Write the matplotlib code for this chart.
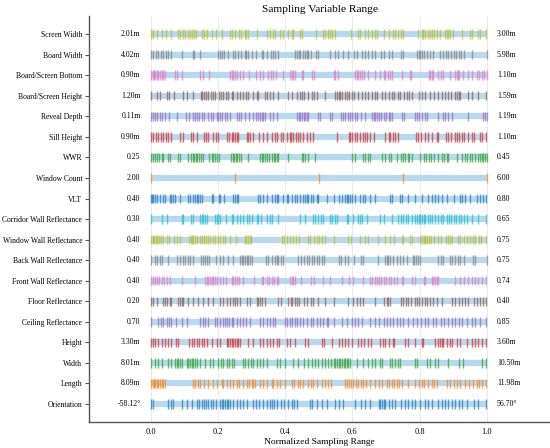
import numpy as np
import matplotlib.pyplot as plt

plt.rcParams['font.family'] = ['Liberation Serif', 'DejaVu Serif']

# variables, listed top to bottom as in the chart
variables = ["Screen Width", "Board Width", "Board/Screen Bottom", "Board/Screen Height",
             "Reveal Depth", "Sill Height", "WWR", "Window Count", "VLT",
             "Corridor Wall Reflectance", "Window Wall Reflectance", "Back Wall Reflectance",
             "Front Wall Reflectance", "Floor Reflectance", "Ceiling Reflectance",
             "Height", "Width", "Length", "Orientation"]
min_labels = ["2.01m", "4.02m", "0.90m", "1.20m", "0.11m", "0.90m", "0.25", "2.00", "0.40",
              "0.30", "0.40", "0.40", "0.40", "0.20", "0.70", "3.30m", "8.01m", "8.09m", "-58.12°"]
max_labels = ["3.00m", "5.98m", "1.10m", "1.59m", "1.19m", "1.10m", "0.45", "6.00", "0.80",
              "0.65", "0.75", "0.75", "0.74", "0.40", "0.85", "3.60m", "10.50m", "11.98m", "56.70°"]

# normalized sample positions
screen_width = [0, .008, .018, .035, .045, .06, .08, .088, .095, .103, .112, .117, .122, .13, .135, .152,
                .159, .167, .182, .195, .212, .237, .243, .251, .264, .27, .28, .285, .29, .315, .345, .355,
                .363, .371, .385, .395, .41, .42, .425, .445, .45, .491, .514, .519, .527, .534, .541, .549,
                .596, .618, .623, .638, .648, .658, .666, .673, .693, .708, .72, .727, .735, .745, .752, .795,
                .806, .811, .816, .824, .831, .836, .844, .851, .861, .876, .881, .886, .891, .9, .927, .95,
                .955, .973, .98, .997]
board_width = [0, .008, .015, .023, .03, .038, .045, .052, .062, .092, .125, .129, .147, .201, .206, .211,
               .218, .231, .244, .251, .261, .268, .28, .285, .29, .303, .313, .33, .335, .345, .357, .363,
               .371, .378, .43, .435, .44, .445, .452, .459, .464, .469, .477, .491, .499, .534, .547, .557,
               .573, .586, .606, .613, .628, .638, .648, .658, .666, .686, .693, .708, .718, .745, .752, .792,
               .797, .802, .807, .812, .822, .831, .841, .861, .871, .878, .886, .894, .901, .908, .916, .924,
               .931, .955, 1.0]
screen_bottom = [0, .006, .01, .014, .018, .023, .028, .033, .038, .042, .072, .077, .092, .147, .157, .175,
                 .236, .241, .246, .251, .258, .266, .276, .294, .313, .325, .335, .35, .357, .363, .373, .395,
                 .415, .42, .425, .43, .449, .454, .479, .487, .544, .549, .557, .608, .613, .618, .623, .63,
                 .636, .646, .668, .683, .693, .698, .705, .712, .719, .747, .772, .775, .827, .832, .836, .841,
                 .856, .864, .871, .891, .906, .911, .914, .918, .93, .945, .955, .97, .977, .985, .993, 1.0]
screen_height = [0, .018, .027, .048, .056, .07, .095, .107, .125, .149, .154, .159, .165, .172, .179, .185,
                 .192, .202, .208, .214, .224, .231, .241, .246, .256, .266, .276, .284, .291, .306, .315, .32,
                 .34, .345, .355, .365, .38, .41, .42, .434, .444, .449, .457, .469, .479, .487, .494, .519,
                 .547, .554, .559, .564, .569, .577, .583, .59, .598, .606, .618, .628, .638, .646, .658, .666,
                 .673, .688, .698, .708, .718, .725, .735, .742, .755, .762, .769, .777, .797, .806, .816, .831,
                 .844, .856, .866, .876, .886, .894, .906, .911, .916, .921, .944, .956, .975, .997]
reveal_depth = [0, .008, .013, .018, .028, .033, .042, .054, .077, .105, .115, .127, .132, .137, .145, .152,
                .159, .172, .179, .187, .196, .201, .206, .211, .221, .228, .236, .256, .264, .268, .28, .294,
                .306, .313, .32, .325, .33, .335, .34, .355, .365, .375, .435, .44, .445, .45, .455, .46, .464,
                .469, .499, .504, .534, .541, .566, .573, .578, .586, .593, .6, .608, .613, .626, .638, .658,
                .663, .668, .673, .678, .686, .693, .7, .708, .713, .718, .747, .755, .785, .792, .799, .807,
                .816, .821, .856, .871, .876, .886, .896, .945, .99, .995, 1.0]
sill_height = [0, .008, .016, .023, .03, .038, .045, .052, .062, .087, .095, .119, .125, .137, .159, .165,
               .172, .187, .194, .201, .226, .234, .241, .246, .251, .256, .261, .286, .291, .296, .304, .321,
               .335, .345, .36, .37, .375, .388, .395, .405, .415, .418, .425, .432, .439, .444, .454, .464,
               .474, .484, .554, .589, .593, .598, .608, .613, .623, .633, .638, .643, .653, .663, .698, .708,
               .713, .722, .727, .737, .789, .795, .804, .816, .826, .836, .851, .856, .878, .886, .894, .904,
               .911, .918, .926, .933, .943, .955, .963, .98, .987, .997]
wwr = [0, .006, .013, .018, .026, .033, .038, .052, .057, .082, .087, .112, .119, .125, .129, .135, .139,
       .145, .149, .155, .175, .182, .187, .192, .197, .202, .238, .244, .248, .254, .258, .264, .268, .291,
       .325, .33, .335, .34, .345, .353, .36, .367, .37, .375, .38, .41, .449, .454, .459, .467, .489, .6,
       .608, .633, .638, .646, .653, .688, .698, .708, .716, .733, .745, .752, .757, .765, .769, .777, .802,
       .812, .819, .828, .834, .844, .856, .866, .874, .881, .886, .911, .926, .934, .941, .951, .956, .965,
       .975, .98, .985, .99, .995, 1.0]
window_count = [0, .25, .5, .75, 1.0]
vlt = [0, .004, .008, .013, .018, .028, .036, .043, .057, .062, .067, .072, .087, .112, .117, .125, .132,
       .137, .142, .147, .152, .182, .187, .202, .206, .218, .246, .251, .256, .261, .318, .325, .335, .345,
       .36, .37, .375, .38, .395, .405, .41, .42, .428, .435, .445, .454, .459, .464, .469, .477, .484, .494,
       .499, .524, .544, .559, .569, .579, .583, .588, .593, .598, .608, .623, .633, .638, .653, .668, .712,
       .719, .742, .747, .767, .787, .806, .826, .836, .846, .856, .866, .881, .901, .921, .926, .935, .95,
       .97, .98, .99, .997]
corridor_refl = [0, .033, .048, .092, .097, .119, .125, .147, .152, .157, .162, .167, .191, .196, .201,
                 .206, .224, .241, .246, .258, .266, .276, .286, .294, .301, .315, .32, .327, .345, .355, .36,
                 .38, .444, .459, .484, .489, .497, .507, .514, .534, .539, .547, .554, .583, .588, .603, .616,
                 .623, .63, .643, .683, .693, .717, .737, .745, .752, .759, .765, .777, .785, .792, .797, .802,
                 .807, .812, .816, .824, .831, .838, .846, .856, .864, .871, .881, .888, .894, .901, .908, .916,
                 .924, .931, .941, .955, .975, .997]
window_wall_refl = [0, .006, .01, .015, .019, .025, .03, .038, .048, .056, .069, .077, .087, .115, .119, .122,
                    .127, .132, .137, .147, .152, .159, .165, .172, .177, .187, .192, .199, .206, .214, .221,
                    .236, .254, .28, .285, .29, .295, .3, .39, .398, .405, .415, .425, .432, .442, .467, .474,
                    .487, .494, .501, .509, .519, .544, .586, .596, .623, .638, .646, .675, .697, .712, .725,
                    .747, .752, .772, .777, .802, .807, .812, .816, .821, .828, .834, .844, .856, .864, .878,
                    .884, .891, .896, .914, .921, .931, .941, .95, .96, .965, .977, .983, .997]
back_wall_refl = [0, .013, .018, .028, .033, .052, .077, .087, .097, .102, .112, .117, .127, .149, .157, .162,
                  .169, .175, .195, .206, .216, .231, .246, .266, .271, .276, .281, .286, .291, .296, .301,
                  .343, .35, .36, .37, .375, .38, .388, .395, .439, .447, .457, .464, .471, .479, .487, .494,
                  .501, .509, .517, .559, .566, .578, .588, .606, .626, .633, .675, .697, .702, .707, .712,
                  .722, .732, .742, .752, .762, .779, .784, .788, .794, .801, .856, .864, .871, .891, .896,
                  .904, .914, .921, .931, .96, .965, 1.0]
front_wall_refl = [0, .006, .013, .02, .026, .033, .04, .048, .058, .092, .132, .162, .167, .172, .177, .182,
                   .187, .192, .197, .206, .216, .224, .241, .246, .251, .256, .264, .276, .308, .33, .335,
                   .345, .353, .36, .367, .375, .38, .415, .42, .425, .43, .447, .477, .487, .514, .534, .569,
                   .589, .603, .633, .653, .66, .666, .673, .68, .686, .693, .7, .708, .716, .723, .732, .747,
                   .752, .777, .785, .812, .816, .836, .841, .846, .851, .856, .906, .921, .931, .945, .955,
                   .965, .975, .985, .997]
floor_refl = [0, .006, .02, .036, .043, .048, .058, .062, .082, .087, .092, .097, .112, .127, .142, .157, .172,
              .185, .206, .214, .226, .236, .246, .251, .258, .266, .286, .296, .315, .32, .325, .33, .34, .38,
              .388, .41, .418, .422, .428, .435, .44, .455, .464, .477, .484, .499, .52, .544, .588, .603, .613,
              .623, .633, .666, .693, .702, .707, .712, .745, .752, .759, .767, .775, .785, .792, .799, .807,
              .815, .821, .831, .841, .851, .866, .896, .906, .918, .926, .934, .945, .963, .97, .98, .99, .997]
ceiling_refl = [0, .023, .03, .038, .048, .056, .062, .075, .092, .107, .147, .157, .162, .172, .191, .196,
                .206, .214, .221, .228, .234, .241, .246, .258, .266, .276, .284, .296, .325, .335, .345, .355,
                .363, .37, .4, .407, .414, .421, .429, .434, .444, .454, .464, .477, .484, .494, .504, .514,
                .524, .529, .544, .568, .583, .598, .608, .618, .63, .653, .668, .678, .693, .702, .712, .722,
                .732, .742, .752, .765, .779, .792, .805, .816, .826, .841, .848, .864, .874, .886, .896, .906,
                .918, .926, .941, .955, .965, .98, .997]
height = [0, .006, .013, .023, .033, .042, .052, .06, .075, .082, .115, .122, .129, .137, .145, .152, .159,
          .167, .182, .196, .206, .226, .231, .236, .241, .246, .251, .256, .261, .266, .291, .306, .325, .335,
          .345, .355, .365, .375, .382, .405, .415, .428, .459, .467, .509, .517, .539, .559, .569, .579, .588,
          .6, .618, .626, .636, .646, .656, .683, .69, .698, .708, .72, .725, .757, .767, .787, .806, .811,
          .846, .854, .861, .866, .871, .881, .891, .896, .911, .921, .941, .955, .965, .975, .985, .997]
width = [0, .013, .023, .033, .052, .062, .072, .077, .082, .087, .092, .107, .112, .117, .122, .127, .132,
         .137, .147, .162, .177, .187, .201, .208, .216, .226, .234, .241, .248, .274, .281, .291, .298, .306,
         .315, .325, .335, .345, .375, .385, .4, .425, .439, .457, .469, .479, .489, .499, .509, .519, .529,
         .536, .544, .549, .554, .559, .564, .569, .574, .578, .583, .588, .593, .613, .633, .648, .658, .668,
         .683, .688, .712, .719, .727, .737, .742, .787, .792, .821, .831, .846, .856, .886, .916, .928, .985,
         .997]
length = [0, .006, .01, .014, .018, .023, .028, .033, .038, .042, .127, .132, .142, .147, .159, .172, .187,
          .196, .211, .216, .226, .236, .246, .256, .264, .276, .288, .294, .301, .306, .311, .325, .335, .345,
          .36, .365, .375, .385, .4, .42, .427, .437, .444, .454, .469, .477, .484, .494, .509, .519, .529,
          .536, .578, .583, .59, .596, .603, .61, .618, .626, .633, .64, .653, .668, .678, .688, .702, .709,
          .717, .725, .732, .739, .747, .765, .785, .797, .806, .814, .826, .836, .844, .851, .881, .891, .901,
          .911, .921, .936, .948, .96, .97, .977, .985, .997]
orientation = [0, .006, .052, .06, .067, .092, .107, .122, .137, .145, .152, .159, .165, .172, .179, .187,
               .194, .206, .211, .216, .221, .226, .231, .236, .246, .256, .266, .276, .286, .306, .313, .323,
               .335, .345, .355, .36, .367, .375, .388, .398, .409, .421, .427, .434, .474, .481, .494, .509,
               .524, .547, .559, .573, .608, .626, .638, .653, .678, .683, .688, .693, .698, .708, .718, .727,
               .745, .757, .767, .777, .787, .802, .816, .826, .836, .856, .866, .876, .886, .896, .904, .916,
               .926, .941, .963, .975, .997]

samples = [screen_width, board_width, screen_bottom, screen_height, reveal_depth, sill_height, wwr,
           window_count, vlt, corridor_refl, window_wall_refl, back_wall_refl, front_wall_refl,
           floor_refl, ceiling_refl, height, width, length, orientation]

# bottom row first
variables = variables[::-1]
min_labels = min_labels[::-1]
max_labels = max_labels[::-1]
samples = samples[::-1]

colors = plt.cm.tab10.colors

fig = plt.figure(figsize=(5.5, 4.48), dpi=100)
ax = fig.add_axes([0.162, 0.058, 0.838, 0.906])

ypos = np.arange(len(variables))
for i, y in enumerate(ypos):
    ax.hlines(y, 0, 1, color='#b8d8ee', linewidth=4.5, zorder=1)
    ax.eventplot(samples[i], lineoffsets=y, linelengths=0.46, linewidths=1.0,
                 colors=[colors[i % 10]], alpha=0.7, zorder=2)
    ax.text(-0.03, y, min_labels[i], ha='right', va='center', fontsize=5.6)
    ax.text(1.03, y, max_labels[i], ha='left', va='center', fontsize=5.6)

ax.set_xlim(-0.183, 1.188)
ax.set_ylim(-0.875, 18.875)
ax.set_yticks(ypos)
ax.set_yticklabels(variables, fontsize=5.5)
ax.set_xticks([0, 0.2, 0.4, 0.6, 0.8, 1.0])
ax.set_xticklabels(["0.0", "0.2", "0.4", "0.6", "0.8", "1.0"], fontsize=6)
ax.tick_params(axis='x', length=0, pad=4)
ax.tick_params(axis='y', length=3, width=0.8, color='#555555', pad=2)
ax.grid(axis='x', color='#e6e6e6', linewidth=0.6, zorder=0)
ax.set_axisbelow(True)
for s in ['top', 'right']:
    ax.spines[s].set_visible(False)
for s in ['left', 'bottom']:
    ax.spines[s].set_color('#555555')
    ax.spines[s].set_linewidth(1.0)

ax.set_xlabel("Normalized Sampling Range", fontsize=6.8, labelpad=2)
ax.set_title("Sampling Variable Range", fontsize=8.2, pad=3)

fig.savefig("out.png", dpi=100)
